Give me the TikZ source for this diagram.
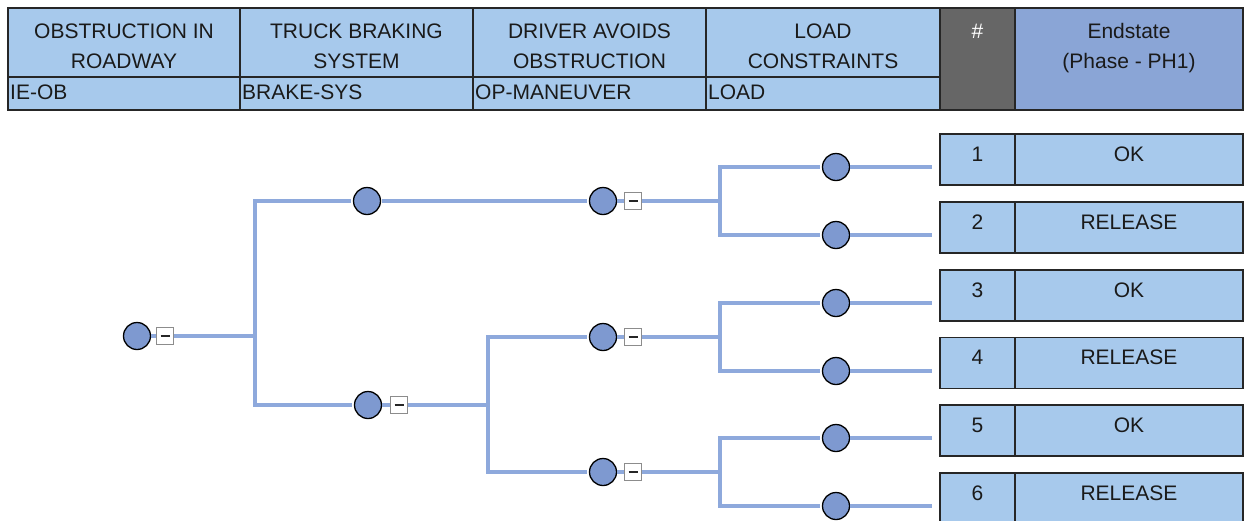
\documentclass[tikz,border=0pt]{standalone}
\usepackage{fontspec}
\setmainfont{Liberation Sans}
\definecolor{cellblue}{HTML}{A7C9EC}
\definecolor{endblue}{HTML}{8AA5D6}
\definecolor{numgray}{HTML}{666666}
\definecolor{linecol}{HTML}{8EA9DC}
\definecolor{nodefill}{HTML}{7E99D0}
\definecolor{txt}{HTML}{1A1A1A}
\begin{document}
\begin{tikzpicture}[x=1pt,y=-1pt,
  hcell/.style={rectangle, draw=black!85, line width=1.2pt, fill=cellblue, inner sep=0pt},
  htext/.style={inner sep=0pt, text height=15pt, text depth=0pt, text=txt, font=\fontsize{21}{25}\selectfont},
  ecell/.style={rectangle, draw=black!85, line width=1.4pt, fill=cellblue, inner sep=0pt, minimum height=51pt,
    text height=15pt, text depth=12pt, text=txt, font=\fontsize{21}{25}\selectfont},
  ev/.style={circle, draw=black, line width=1.3pt, fill=nodefill, minimum size=27pt, inner sep=0pt},
  mb/.style={rectangle, draw=black!45, fill=white, line width=1pt, minimum size=17pt, inner sep=0pt,
    path picture={\draw[line width=1.5pt, black!85] ([xshift=-4.5pt]path picture bounding box.center) -- ([xshift=4.5pt]path picture bounding box.center);}},
  br/.style={draw=linecol, line width=4pt},
]
\useasboundingbox (0,0) rectangle (1245,520);

% ---------- header ----------
\node[hcell, minimum width=232pt, minimum height=69pt] (h1) at (124,42.5) {};
\node[hcell, minimum width=233pt, minimum height=69pt] (h2) at (356.5,42.5) {};
\node[hcell, minimum width=233pt, minimum height=69pt] (h3) at (589.5,42.5) {};
\node[hcell, minimum width=234pt, minimum height=69pt] (h4) at (823,42.5) {};
\node[hcell, minimum width=232pt, minimum height=33pt] (s1) at (124,93.5) {};
\node[hcell, minimum width=233pt, minimum height=33pt] (s2) at (356.5,93.5) {};
\node[hcell, minimum width=233pt, minimum height=33pt] (s3) at (589.5,93.5) {};
\node[hcell, minimum width=234pt, minimum height=33pt] (s4) at (823,93.5) {};
\node[hcell, fill=numgray, minimum width=75pt, minimum height=102pt] (hn) at (977.5,59) {};
\node[hcell, fill=endblue, minimum width=228pt, minimum height=102pt] (he) at (1129,59) {};

\node[htext] (h1a) at (124,31) {OBSTRUCTION IN};
\node[htext] (h1b) at (124,61) {ROADWAY};
\node[htext] (h2a) at (356.5,31) {TRUCK BRAKING};
\node[htext] (h2b) at (356.5,61) {SYSTEM};
\node[htext] (h3a) at (589.5,31) {DRIVER AVOIDS};
\node[htext] (h3b) at (589.5,61) {OBSTRUCTION};
\node[htext] (h4a) at (823,31) {LOAD};
\node[htext] (h4b) at (823,61) {CONSTRAINTS};
\node[htext, text=white] (hna) at (977.5,31) {\#};
\node[htext] (hea) at (1129,31) {Endstate};
\node[htext] (heb) at (1129,61) {(Phase - PH1)};
\node[htext, anchor=west] (s1t) at (10,92) {IE-OB};
\node[htext, anchor=west] (s2t) at (242,92) {BRAKE-SYS};
\node[htext, anchor=west] (s3t) at (475,92) {OP-MANEUVER};
\node[htext, anchor=west] (s4t) at (708,92) {LOAD};

% ---------- end states ----------
\node[ecell, minimum width=75pt]  (n1) at (977.5,159.5) {1};
\node[ecell, minimum width=228pt] (e1) at (1129,159.5) {OK};
\node[ecell, minimum width=75pt]  (n2) at (977.5,227.5) {2};
\node[ecell, minimum width=228pt] (e2) at (1129,227.5) {RELEASE};
\node[ecell, minimum width=75pt]  (n3) at (977.5,295.5) {3};
\node[ecell, minimum width=228pt] (e3) at (1129,295.5) {OK};
\node[ecell, minimum width=75pt]  (n4) at (977.5,363) {4};
\node[ecell, minimum width=228pt] (e4) at (1129,363) {RELEASE};
\node[ecell, minimum width=75pt]  (n5) at (977.5,430.5) {5};
\node[ecell, minimum width=228pt] (e5) at (1129,430.5) {OK};
\node[ecell, minimum width=75pt]  (n6) at (977.5,498.5) {6};
\node[ecell, minimum width=228pt] (e6) at (1129,498.5) {RELEASE};

% ---------- tree nodes ----------
\node[ev] (c0) at (137,336) {};
\node[mb] (m0) at (165,336) {};
\node[ev] (c1) at (367,201) {};
\node[ev] (c2) at (368,405) {};
\node[mb] (m2) at (399,405) {};
\node[ev] (c3) at (603,201) {};
\node[mb] (m3) at (633,201) {};
\node[ev] (c4) at (603,337) {};
\node[mb] (m4) at (633,337) {};
\node[ev] (c5) at (603,472) {};
\node[mb] (m5) at (633,472) {};
\node[ev] (l1) at (836,167) {};
\node[ev] (l2) at (836,235) {};
\node[ev] (l3) at (836,303) {};
\node[ev] (l4) at (836,371) {};
\node[ev] (l5) at (836,438) {};
\node[ev] (l6) at (836,506) {};

\coordinate (j0) at (255,336);
\coordinate (j2) at (488,405);
\coordinate (j3) at (720,201);
\coordinate (j4) at (720,337);
\coordinate (j5) at (720,472);

% ---------- connectors ----------
\draw[br] (c0.east) -- (m0.west);
\draw[br] (m0.east) -- (j0);
\draw[br, shorten >=2pt] (j0) |- (c1.west);
\draw[br, shorten >=2pt] (j0) |- (c2.west);
\draw[br, shorten <=1pt, shorten >=2pt] (c1.east) -- (c3.west);
\draw[br] (c2.east) -- (m2.west);
\draw[br] (m2.east) -- (j2);
\draw[br, shorten >=2pt] (j2) |- (c4.west);
\draw[br, shorten >=2pt] (j2) |- (c5.west);
\draw[br] (c3.east) -- (m3.west);
\draw[br] (c4.east) -- (m4.west);
\draw[br] (c5.east) -- (m5.west);
\draw[br] (m3.east) -- (j3);
\draw[br] (m4.east) -- (j4);
\draw[br] (m5.east) -- (j5);
\draw[br, shorten >=2pt] (j3) |- (l1.west);
\draw[br, shorten >=2pt] (j3) |- (l2.west);
\draw[br, shorten >=2pt] (j4) |- (l3.west);
\draw[br, shorten >=2pt] (j4) |- (l4.west);
\draw[br, shorten >=2pt] (j5) |- (l5.west);
\draw[br, shorten >=2pt] (j5) |- (l6.west);
\draw[br, shorten >=7pt] (l1.east) -- (l1.east -| n1.west);
\draw[br, shorten >=7pt] (l2.east) -- (l2.east -| n2.west);
\draw[br, shorten >=7pt] (l3.east) -- (l3.east -| n3.west);
\draw[br, shorten >=7pt] (l4.east) -- (l4.east -| n4.west);
\draw[br, shorten >=7pt] (l5.east) -- (l5.east -| n5.west);
\draw[br, shorten >=7pt] (l6.east) -- (l6.east -| n6.west);
\end{tikzpicture}
\end{document}
